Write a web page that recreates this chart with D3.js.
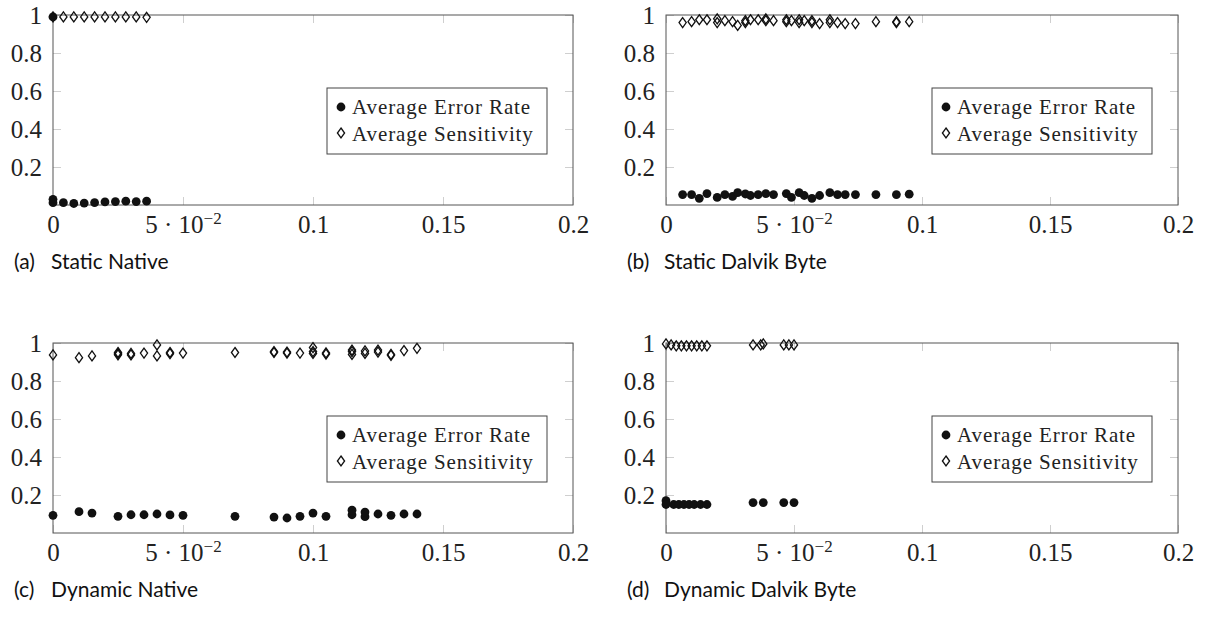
<!DOCTYPE html>
<html>
<head>
<meta charset="utf-8">
<script src="https://cdn.jsdelivr.net/npm/d3@7"></script>
<style>
    body { margin: 0; background: #fff; }
    svg { display: block; }
</style>
</head>
<body>
<svg width="1208" height="627"></svg>
<script>
// tick values shared by the four subplots
var xTicks = [0, 0.05, 0.1, 0.15, 0.2];
var yTicks = [0.2, 0.4, 0.6, 0.8, 1];
var legendLabels = ['Average Error Rate', 'Average Sensitivity'];
var captionTags = ['(a)', '(b)', '(c)', '(d)'];
var captions = ['Static Native', 'Static Dalvik Byte', 'Dynamic Native', 'Dynamic Dalvik Byte'];

// (a) Static Native
var aErrX = [0, 0, 0, 0.004, 0.008, 0.012, 0.016, 0.020, 0.024, 0.028, 0.032, 0.036];
var aErrY = [0.99, 0.03, 0.012, 0.012, 0.008, 0.01, 0.012, 0.016, 0.018, 0.02, 0.018, 0.02];
var aSensX = [0, 0.004, 0.008, 0.012, 0.016, 0.020, 0.024, 0.028, 0.032, 0.036];
var aSensY = [0.99, 0.99, 0.99, 0.99, 0.99, 0.99, 0.99, 0.99, 0.99, 0.988];

// (b) Static Dalvik Byte
var bErrX = [0.0065, 0.01, 0.013, 0.016, 0.02, 0.023, 0.026, 0.028, 0.031, 0.033, 0.036, 0.039, 0.042,
    0.047, 0.049, 0.052, 0.054, 0.057, 0.06, 0.064, 0.067, 0.07, 0.074, 0.082, 0.09, 0.095];
var bErrY = [0.055, 0.055, 0.035, 0.06, 0.04, 0.055, 0.045, 0.065, 0.058, 0.05, 0.055, 0.06, 0.055,
    0.06, 0.04, 0.065, 0.05, 0.035, 0.05, 0.065, 0.055, 0.055, 0.055, 0.055, 0.055, 0.057];
var bSensX = [0.0065, 0.01, 0.013, 0.016, 0.02, 0.023, 0.026, 0.028, 0.031, 0.033, 0.036, 0.039, 0.042,
    0.047, 0.049, 0.052, 0.054, 0.057, 0.06, 0.064, 0.067, 0.07, 0.074, 0.082, 0.09, 0.095,
    0.02, 0.031, 0.039, 0.047, 0.052, 0.057, 0.064, 0.09];
var bSensY = [0.96, 0.965, 0.975, 0.975, 0.98, 0.97, 0.965, 0.945, 0.96, 0.975, 0.975, 0.98, 0.97,
    0.975, 0.97, 0.975, 0.97, 0.96, 0.955, 0.975, 0.96, 0.955, 0.955, 0.965, 0.965, 0.965,
    0.96, 0.97, 0.97, 0.965, 0.96, 0.97, 0.96, 0.96];

// (c) Dynamic Native
var cErrX = [0, 0.01, 0.015, 0.025, 0.03, 0.035, 0.04, 0.045, 0.05, 0.07, 0.085, 0.09, 0.095,
    0.1, 0.105, 0.115, 0.115, 0.12, 0.12, 0.125, 0.13, 0.135, 0.14];
var cErrY = [0.093, 0.112, 0.105, 0.088, 0.096, 0.096, 0.1, 0.095, 0.093, 0.088, 0.084, 0.079, 0.088,
    0.105, 0.088, 0.096, 0.12, 0.086, 0.11, 0.1, 0.093, 0.1, 0.1];
var cSensX = [0, 0.01, 0.015, 0.025, 0.025, 0.025, 0.03, 0.03, 0.035, 0.04, 0.04, 0.045, 0.045, 0.05,
    0.07, 0.085, 0.085, 0.09, 0.09, 0.095, 0.1, 0.1, 0.1, 0.105, 0.105, 0.115, 0.115, 0.115,
    0.12, 0.12, 0.125, 0.125, 0.13, 0.13, 0.135, 0.14];
var cSensY = [0.937, 0.923, 0.932, 0.944, 0.95, 0.938, 0.937, 0.945, 0.947, 0.99, 0.932, 0.944, 0.95, 0.947,
    0.95, 0.95, 0.955, 0.947, 0.952, 0.947, 0.955, 0.976, 0.945, 0.942, 0.948, 0.963, 0.94, 0.955,
    0.958, 0.945, 0.963, 0.952, 0.935, 0.94, 0.96, 0.972];

// (d) Dynamic Dalvik Byte
var dErrX = [0, 0, 0.003, 0.005, 0.007, 0.009, 0.011, 0.0135, 0.016, 0.034, 0.038, 0.046, 0.05];
var dErrY = [0.17, 0.15, 0.15, 0.15, 0.15, 0.15, 0.15, 0.15, 0.15, 0.16, 0.16, 0.16, 0.16];
var dSensX = [0, 0.002, 0.004, 0.006, 0.008, 0.01, 0.012, 0.014, 0.016, 0.034, 0.037, 0.038, 0.046, 0.048, 0.05];
var dSensY = [0.995, 0.99, 0.985, 0.985, 0.985, 0.985, 0.985, 0.985, 0.985, 0.99, 0.99, 0.995, 0.99, 0.99, 0.99];

var svg = d3.select('svg');

// subplot boxes (pixel layout)
var layout = [
    {l: 53, t: 15, w: 520, h: 190},
    {l: 666, t: 15, w: 512, h: 190},
    {l: 53, t: 343, w: 520, h: 190},
    {l: 666, t: 343, w: 512, h: 190}
];

var panels = [
    {err: [aErrX, aErrY], sens: [aSensX, aSensY]},
    {err: [bErrX, bErrY], sens: [bSensX, bSensY]},
    {err: [cErrX, cErrY], sens: [cSensX, cSensY]},
    {err: [dErrX, dErrY], sens: [dSensX, dSensY]}
];

var serif = '"Liberation Serif", "DejaVu Serif", serif';
var sans = 'Lato, "Open Sans", sans-serif';
var diamond = 'M0,-5L3.6,0L0,5L-3.6,0Z';
var tickColor = '#cfcfcf';

function zip(pair) {
    return pair[0].map(function(x, i) { return {x: x, y: pair[1][i]}; });
}

panels.forEach(function(p, i) {
    var box = layout[i];
    var g = svg.append('g').attr('class', 'trellis')
        .attr('transform', 'translate(' + [box.l, box.t] + ')');

    var xScale = d3.scaleLinear().domain([0, 0.2]).range([0, box.w]);
    var yScale = d3.scaleLinear().domain([0, 1]).range([box.h, 0]);

    // inner ticks on all four sides, labels on bottom and left
    var xAxis = g.append('g').attr('class', 'x axis')
        .attr('transform', 'translate(0,' + box.h + ')')
        .call(d3.axisBottom(xScale).tickValues(xTicks).tickSizeInner(-8).tickSizeOuter(0).tickPadding(10)
            .tickFormat(function(d) { return d === 0.05 ? '5 \u00b7 10' : String(d); }));
    xAxis.selectAll('.tick text').filter(function(d) { return d === 0.05; })
        .append('tspan').attr('dy', '-0.5em').style('font-size', '17px').text('\u22122');

    g.append('g').attr('class', 'x axis top')
        .call(d3.axisTop(xScale).tickValues(xTicks).tickSizeInner(-8).tickSizeOuter(0).tickFormat(''));

    g.append('g').attr('class', 'y axis')
        .call(d3.axisLeft(yScale).tickValues(yTicks).tickSizeInner(-8).tickSizeOuter(0).tickPadding(11)
            .tickFormat(function(d) { return String(d); }));

    g.append('g').attr('class', 'y axis right')
        .attr('transform', 'translate(' + box.w + ',0)')
        .call(d3.axisRight(yScale).tickValues(yTicks).tickSizeInner(-8).tickSizeOuter(0).tickFormat(''));

    g.selectAll('.axis .domain').remove();
    g.selectAll('.axis line').attr('stroke', tickColor);
    g.selectAll('.axis text')
        .style('font-family', serif).style('font-size', '25px').style('fill', '#222');

    g.append('rect')
        .attr('width', box.w).attr('height', box.h)
        .attr('fill', 'none').attr('stroke', '#555').attr('stroke-width', 1);

    g.selectAll('.err').data(zip(p.err)).enter()
        .append('circle').attr('class', 'err')
        .attr('cx', function(d) { return xScale(d.x); })
        .attr('cy', function(d) { return yScale(d.y); })
        .attr('r', 4.4)
        .attr('fill', '#111');

    g.selectAll('.sens').data(zip(p.sens)).enter()
        .append('path').attr('class', 'sens')
        .attr('d', diamond)
        .attr('transform', function(d) { return 'translate(' + [xScale(d.x), yScale(d.y)] + ')'; })
        .attr('fill', 'none')
        .attr('stroke', '#111').attr('stroke-width', 1.3);

    // legend box
    var lg = g.append('g').attr('transform', 'translate(' + [box.w - 246, 73] + ')');
    lg.append('rect').attr('width', 220).attr('height', 66)
        .attr('fill', '#fff').attr('stroke', '#444').attr('stroke-width', 1);
    lg.append('circle').attr('cx', 14).attr('cy', 19).attr('r', 4.4).attr('fill', '#111');
    lg.append('path').attr('d', diamond).attr('transform', 'translate(14,45)')
        .attr('fill', 'none').attr('stroke', '#111').attr('stroke-width', 1.3);
    lg.selectAll('.legend-text').data(legendLabels).enter()
        .append('text').attr('class', 'legend-text')
        .attr('x', 25).attr('y', function(d, k) { return 19 + k * 26.5; })
        .attr('dy', '0.35em')
        .style('font-family', serif).style('font-size', '21px').style('letter-spacing', '0.9px')
        .style('fill', '#222')
        .text(function(d) { return d; });

    // caption below the subplot
    var cap = svg.append('text')
        .attr('y', box.t + 254)
        .style('font-family', sans).style('font-size', '21px').style('fill', '#111');
    cap.append('tspan').attr('x', box.l - 39).text(captionTags[i]);
    cap.append('tspan').attr('x', box.l - 2).text(captions[i]);
});
</script>
</body>
</html>
